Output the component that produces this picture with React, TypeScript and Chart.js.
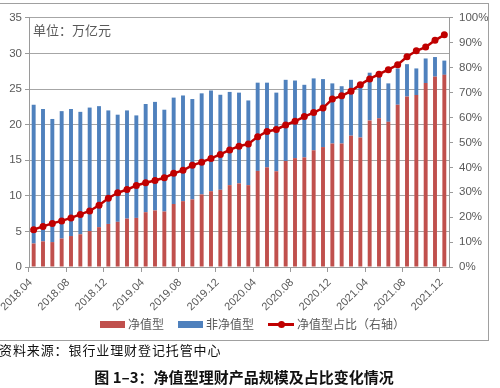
import React, { useEffect, useRef } from 'react';
import { Chart, registerables } from 'chart.js';

Chart.register(...registerables);

const MONTHS = [
  '2018.04', '2018.05', '2018.06', '2018.07', '2018.08', '2018.09', '2018.10', '2018.11', '2018.12',
  '2019.01', '2019.02', '2019.03', '2019.04', '2019.05', '2019.06', '2019.07', '2019.08', '2019.09',
  '2019.10', '2019.11', '2019.12', '2020.01', '2020.02', '2020.03', '2020.04', '2020.05', '2020.06',
  '2020.07', '2020.08', '2020.09', '2020.10', '2020.11', '2020.12', '2021.01', '2021.02', '2021.03',
  '2021.04', '2021.05', '2021.06', '2021.07', '2021.08', '2021.09', '2021.10', '2021.11', '2021.12',
];

// 净值型 (万亿元)
const NAV_SCALE = [
  3.3, 3.6, 3.5, 4.0, 4.35, 4.6, 5.05, 5.6, 6.05,
  6.35, 6.8, 6.9, 7.7, 7.95, 7.8, 8.85, 9.25, 9.5,
  10.2, 10.65, 10.85, 11.5, 11.75, 11.5, 13.5, 14.0, 13.45,
  14.9, 15.3, 15.4, 16.4, 16.85, 17.35, 17.35, 18.45, 18.2,
  20.6, 20.9, 20.4, 22.8, 23.95, 24.15, 25.85, 26.75, 27.0,
];

// 非净值型 (万亿元)
const NON_NAV_SCALE = [
  19.5, 18.6, 17.3, 17.9, 17.85, 17.2, 17.35, 17.0, 15.95,
  15.05, 15.2, 14.4, 15.2, 15.25, 14.3, 14.95, 14.85, 14.1,
  14.2, 14.15, 13.35, 13.1, 12.75, 11.9, 12.4, 11.9, 11.05,
  11.4, 10.9, 10.2, 10.1, 9.55, 8.45, 8.05, 7.85, 7.4,
  6.7, 5.8, 5.4, 5.1, 4.55, 3.75, 3.45, 2.75, 2.0,
];

// 净值型占比 (%)
const NAV_SHARE = [
  15.0, 16.3, 17.5, 18.5, 19.7, 21.1, 22.5, 24.8, 27.6,
  29.8, 31.1, 32.7, 33.8, 34.7, 35.8, 37.6, 38.8, 40.8,
  42.1, 43.6, 45.2, 47.0, 48.5, 49.4, 52.3, 54.4, 55.2,
  57.0, 58.5, 60.4, 62.0, 63.8, 67.4, 68.7, 70.6, 73.2,
  75.5, 77.4, 79.2, 81.2, 84.4, 86.8, 88.3, 91.0, 93.2,
];

const RED = '#C0504D';
const BLUE = '#4F81BD';
const LINE_RED = '#C00000';
const AXIS_GRAY = '#9a9a9a';
const TEXT_GRAY = '#595959';
const TICK_FONT = { family: '"Liberation Sans", Arial, sans-serif', size: 11.5 };

export default function App() {
  const ref = useRef<HTMLCanvasElement>(null);

  useEffect(() => {
    const chart = new Chart(ref.current as HTMLCanvasElement, {
      data: {
        labels: MONTHS,
        datasets: [
          {
            type: 'line',
            label: '净值型占比（右轴）',
            data: NAV_SHARE,
            yAxisID: 'y1',
            borderColor: LINE_RED,
            backgroundColor: LINE_RED,
            borderWidth: 2.5,
            pointRadius: 3.5,
            pointBackgroundColor: LINE_RED,
            pointBorderColor: LINE_RED,
            pointBorderWidth: 0,
            tension: 0,
            order: 0,
          } as any,
          {
            type: 'bar',
            label: '净值型',
            data: NAV_SCALE,
            yAxisID: 'y',
            backgroundColor: RED,
            stack: 's',
            categoryPercentage: 1,
            barPercentage: 0.42,
            order: 1,
          } as any,
          {
            type: 'bar',
            label: '非净值型',
            data: NON_NAV_SCALE,
            yAxisID: 'y',
            backgroundColor: BLUE,
            stack: 's',
            categoryPercentage: 1,
            barPercentage: 0.42,
            order: 1,
          } as any,
        ],
      },
      options: {
        responsive: false,
        animation: false,
        devicePixelRatio: 1,
        layout: { padding: { top: 10, bottom: 28, left: 0, right: 0 } },
        plugins: {
          legend: { display: false },
          tooltip: { enabled: false },
          title: { display: false },
        },
        scales: {
          x: {
            stacked: true,
            grid: {
              display: true,
              drawOnChartArea: false,
              offset: true,
              tickLength: 5,
              color: (ctx: any) => (ctx.index % 4 === 0 ? AXIS_GRAY : 'rgba(0,0,0,0)'),
            },
            border: { color: AXIS_GRAY },
            ticks: {
              autoSkip: false,
              minRotation: 45,
              maxRotation: 45,
              padding: 4,
              labelOffset: -3,
              color: TEXT_GRAY,
              font: { family: '"Liberation Sans", Arial, sans-serif', size: 11 },
              callback: (_v: any, i: number) => (i % 4 === 0 ? MONTHS[i] : ''),
            },
            afterFit: (s: any) => {
              s.height = 45;
            },
          },
          y: {
            type: 'linear',
            position: 'left',
            stacked: true,
            min: 0,
            max: 35,
            grid: { color: '#a6a6a6', tickLength: 4, tickColor: AXIS_GRAY },
            border: { color: AXIS_GRAY },
            ticks: { stepSize: 5, padding: 3, color: TEXT_GRAY, font: TICK_FONT },
            afterFit: (s: any) => {
              s.width = 29;
            },
          },
          y1: {
            type: 'linear',
            position: 'right',
            min: 0,
            max: 100,
            grid: { drawOnChartArea: false, tickLength: 4, color: AXIS_GRAY },
            border: { color: AXIS_GRAY },
            ticks: {
              stepSize: 10,
              padding: 6,
              color: TEXT_GRAY,
              font: TICK_FONT,
              callback: (v: any) => `${v}%`,
            },
            afterFit: (s: any) => {
              s.width = 39;
            },
          },
        },
      } as any,
    });
    return () => chart.destroy();
  }, []);

  const legendText: React.CSSProperties = {
    position: 'absolute',
    top: 317,
    fontSize: 12,
    lineHeight: '14px',
    color: TEXT_GRAY,
    whiteSpace: 'nowrap',
  };

  return (
    <div
      style={{
        position: 'fixed',
        left: 0,
        top: 0,
        width: 500,
        height: 388,
        background: '#fff',
        overflow: 'hidden',
        fontFamily: '"Noto Sans CJK SC", sans-serif',
      }}
    >
      <canvas
        ref={ref}
        width={488}
        height={335}
        style={{ position: 'absolute', left: 0, top: 5, width: 488, height: 335 }}
      />
      <div
        style={{
          position: 'absolute',
          left: -2,
          top: 3,
          width: 491,
          height: 338,
          border: '1.5px solid #a0a0a0',
          boxSizing: 'border-box',
          pointerEvents: 'none',
        }}
      />
      <div
        style={{
          position: 'absolute',
          left: 33,
          top: 21,
          fontSize: 13,
          lineHeight: '18px',
          color: TEXT_GRAY,
          whiteSpace: 'nowrap',
        }}
      >
        单位：万亿元
      </div>

      <div style={{ position: 'absolute', left: 100, top: 321, width: 25, height: 7, background: RED }} />
      <div style={{ ...legendText, left: 128 }}>净值型</div>
      <div style={{ position: 'absolute', left: 178, top: 321, width: 25, height: 7, background: BLUE }} />
      <div style={{ ...legendText, left: 206 }}>非净值型</div>
      <div style={{ position: 'absolute', left: 268, top: 323, width: 26, height: 2.5, background: LINE_RED }} />
      <div
        style={{
          position: 'absolute',
          left: 277.5,
          top: 320.7,
          width: 7,
          height: 7,
          borderRadius: '50%',
          background: LINE_RED,
        }}
      />
      <div style={{ ...legendText, left: 297 }}>净值型占比（右轴）</div>

      <div
        style={{
          position: 'absolute',
          left: -1,
          top: 341,
          fontSize: 13,
          lineHeight: '18px',
          letterSpacing: 0.9,
          color: '#111',
          whiteSpace: 'nowrap',
        }}
      >
        资料来源：银行业理财登记托管中心
      </div>
      <div
        style={{
          position: 'absolute',
          left: 0,
          width: 488,
          top: 367,
          textAlign: 'center',
          fontSize: 15,
          lineHeight: '20px',
          fontWeight: 'bold',
          color: '#111',
          whiteSpace: 'nowrap',
        }}
      >
        图 1–3：净值型理财产品规模及占比变化情况
      </div>
    </div>
  );
}
